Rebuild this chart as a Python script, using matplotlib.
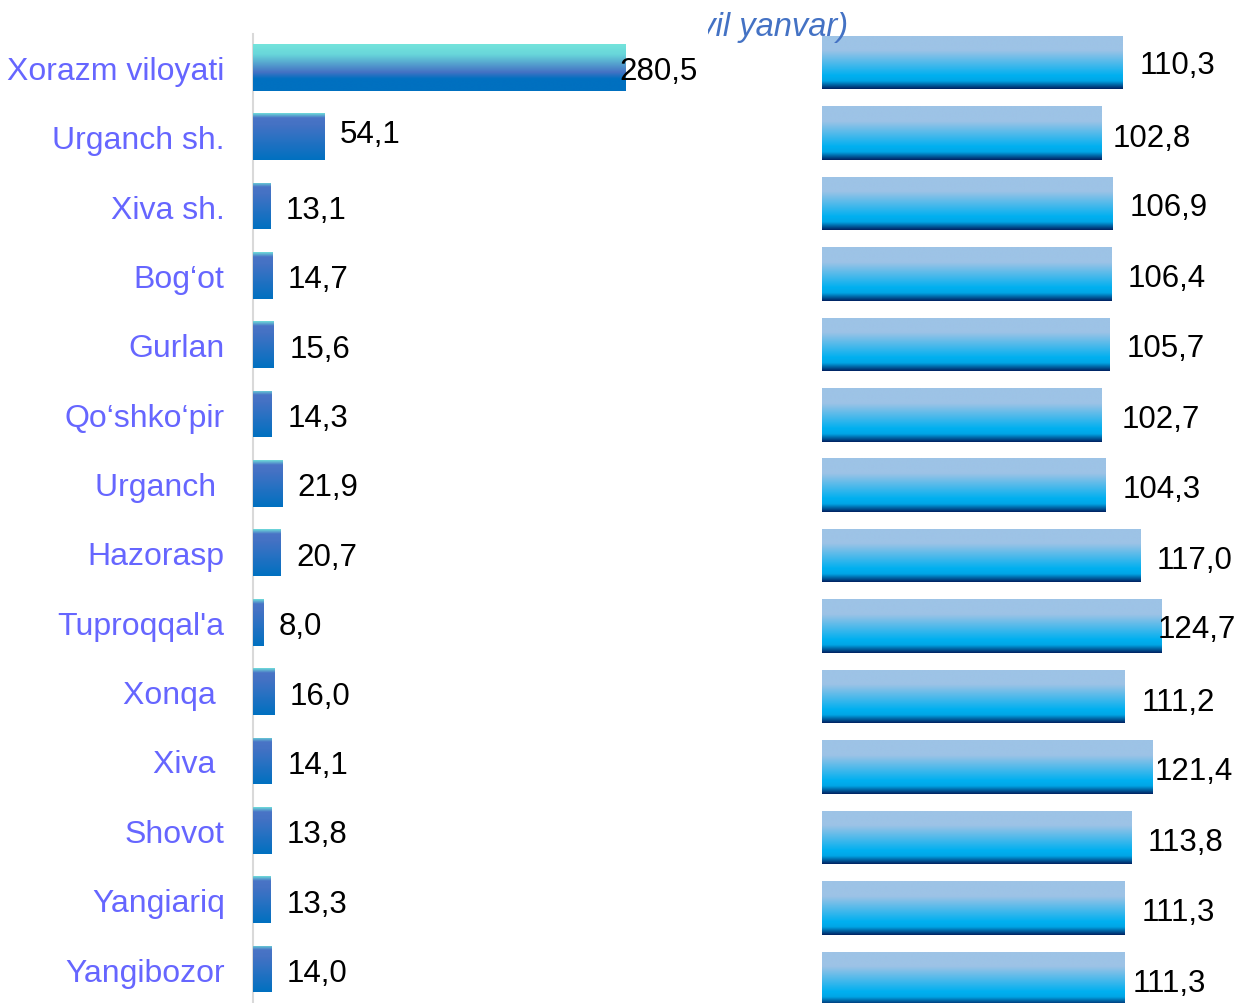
import matplotlib
matplotlib.use('Agg')
import matplotlib.pyplot as plt
from matplotlib.colors import LinearSegmentedColormap
import numpy as np

plt.rcParams['font.family'] = ['Liberation Sans', 'DejaVu Sans']

# data
districts = ['Xorazm viloyati', 'Urganch sh.', 'Xiva sh.', 'Bog\u2018ot', 'Gurlan',
             'Qo\u2018shko\u2018pir', 'Urganch ', 'Hazorasp', "Tuproqqal'a", 'Xonqa ',
             'Xiva ', 'Shovot', 'Yangiariq', 'Yangibozor']
volume = [280.5, 54.1, 13.1, 14.7, 15.6, 14.3, 21.9, 20.7, 8.0, 16.0, 14.1, 13.8, 13.3, 14.0]
growth = [110.3, 102.8, 106.9, 106.4, 105.7, 102.7, 104.3, 117.0, 124.7, 111.2, 121.4, 113.8, 111.3, 111.3]
title_text = '(2024-yil yanvar)'

# label nudges (pixels) - the source chart has hand placed labels
left_dx = [-5, 15] + [16] * 12
left_dy = [0, 7] + [0] * 12
right_dx = [18, 11, 17, 16, 17, 20, 17, 16, -4, 17, 2, 16, 17, 8]
right_dy = [1, -1, 0, 0, 0, 0, 0, 0, 1, -1, 0, 0, 0, -1]
base_dy = -4

W, H = 1238, 1004
fig = plt.figure(figsize=(W / 100, H / 100), dpi=100)

cm_big = LinearSegmentedColormap.from_list('big', [(0, '#74E4DC'), (0.22, '#68D6DA'),
                                                   (0.6, '#4472C4'), (0.74, '#0070C0'),
                                                   (1, '#0070C0')])
cm_small = LinearSegmentedColormap.from_list('small', [(0, '#6FDDDA'), (0.1, '#4A74C6'),
                                                       (0.25, '#4472C4'), (1, '#0070C0')])
cm_right = LinearSegmentedColormap.from_list('right', [(0, '#9DC3E6'), (0.28, '#9DC3E6'),
                                                       (0.75, '#00B0F0'), (0.85, '#00A6E6'),
                                                       (1, '#002060')])
grad = np.linspace(0, 1, 256).reshape(-1, 1)


def fill_gradient(ax, bars, cmaps):
    for b, cm in zip(bars, cmaps):
        x0, y0 = b.get_x(), b.get_y()
        w, h = b.get_width(), b.get_height()
        im = ax.imshow(grad, cmap=cm, aspect='auto', extent=(x0, x0 + w, y0 + h, y0),
                       zorder=3, interpolation='bilinear')
        im.set_clip_path(b)


def fmt(v):
    return f'{v:.1f}'.replace('.', ',')


# left panel
ax1 = fig.add_axes([252.5 / W, 0, 397.9 / W, (H - 35) / H])
y = np.arange(len(districts))
bars1 = ax1.barh(y, volume, height=0.673, color='#4472C4', zorder=2)
fill_gradient(ax1, bars1, [cm_big] + [cm_small] * (len(volume) - 1))
ax1.set_xlim(0, 300)
ax1.set_ylim(13.49, -0.48)
ax1.set_yticks(y, districts, color='#6666FF', fontsize=23)
ax1.tick_params(axis='y', length=0, pad=20)
ax1.set_xticks([])
for s in ['top', 'right', 'bottom']:
    ax1.spines[s].set_visible(False)
ax1.spines['left'].set_color('#D9D9D9')
ax1.spines['left'].set_linewidth(1.5)
for i, v in enumerate(volume):
    ax1.annotate(fmt(v), (v, i), xytext=(left_dx[i] * 0.72, (left_dy[i] + base_dy) * 0.72),
                 textcoords='offset points', va='center', ha='left',
                 fontsize=22.5, color='black', zorder=5, annotation_clip=False)

# right panel
ax2 = fig.add_axes([822 / W, 0, 408 / W, 1])
bars2 = ax2.barh(y, growth, height=0.76, color='#00B0F0', zorder=2)
fill_gradient(ax2, bars2, [cm_right] * len(growth))
ax2.set_xlim(0, 150)
ax2.set_ylim(13.348, -0.901)
ax2.axis('off')
for i, v in enumerate(growth):
    ax2.annotate(fmt(v), (v, i), xytext=(right_dx[i] * 0.72, (right_dy[i] + base_dy) * 0.72),
                 textcoords='offset points', va='center', ha='left',
                 fontsize=22.5, color='black', zorder=5, annotation_clip=False)

# title, partly hidden in the source
axt = fig.add_axes([708 / W, (H - 50) / H, (W - 708) / W, 50 / H])
axt.axis('off')
axt.text((848 - 708) / (W - 708), 0.28, title_text, transform=axt.transAxes,
         ha='right', va='baseline', fontsize=23.5, style='italic', color='#4472C4',
         clip_on=True)

fig.savefig('out.png', dpi=100)
